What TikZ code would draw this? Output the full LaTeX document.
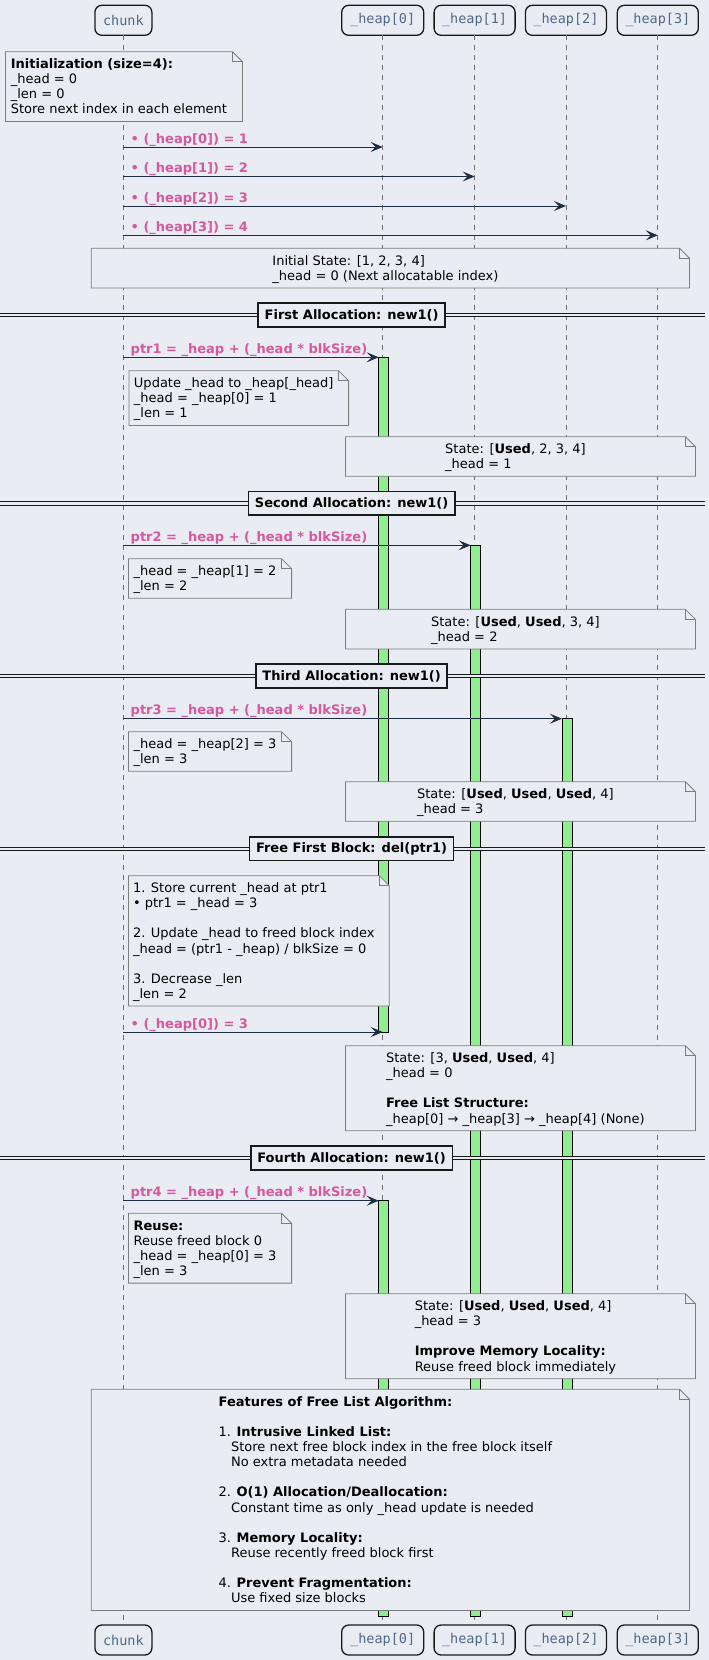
\documentclass[tikz,border=0pt]{standalone}
\usepackage{fontspec}
\setmainfont{DejaVu Sans}
\setmonofont{DejaVu Sans Mono}
\usetikzlibrary{arrows.meta}
\definecolor{bg}{RGB}{233,236,243}
\definecolor{pinklbl}{RGB}{214,88,158}
\definecolor{navy}{RGB}{30,45,68}
\definecolor{partxt}{RGB}{80,105,135}
\definecolor{notebd}{RGB}{125,125,125}
\definecolor{actgreen}{RGB}{144,238,144}
\definecolor{lifegray}{RGB}{110,110,110}
\newcommand\mlines[1]{\vtop{\baselineskip=15.13pt\lineskiplimit=-30pt\lineskip=0pt\halign{##\hfil\cr#1\crcr}}}
\newcommand\ind{\hspace*{12.4pt}}
\newcommand\fnote[5]{%
  \filldraw[notebox] (#2,#3) -- ({#4-10},#3) -- (#4,{#3+10}) -- (#4,#5) -- (#2,#5) -- cycle;
  \draw[notebox,fill=none] ({#4-10},#3) -- ({#4-10},{#3+10}) -- (#4,{#3+10});
  \coordinate (#1) at ({(#2+#4-10)/2},{#3+16.8});}
\newcommand\divline[3]{%
  \fill[bg] (0,{#2-1.65}) rectangle (705,{#2+1.65});
  \draw[black!90,line width=0.9pt] (0,{#2-1.65}) -- (705,{#2-1.65}) (0,{#2+1.65}) -- (705,{#2+1.65});
  \node[divbox] (#1) at (351.6,#2) {#3};}
\begin{document}
\begin{tikzpicture}[x=1pt,y=-1pt,
  every node/.style={inner sep=0pt,outer sep=0pt},
  part/.style={draw=black!90,line width=1.3pt,rounded corners=7pt,fill=bg,minimum height=30pt,text=partxt,font=\fontsize{13.5}{16}\ttfamily},
  lifeline/.style={draw=lifegray,line width=0.7pt,dash pattern=on 5pt off 5pt},
  act/.style={fill=actgreen,draw=black,line width=0.8pt},
  notebox/.style={draw=notebd,fill=bg,line width=0.8pt},
  notetxt/.style={anchor=base,font=\fontsize{13}{15.13}\selectfont,text=black},
  msg/.style={draw=navy,line width=1pt,-{Stealth[length=12pt,width=10pt,inset=5pt]}},
  lbl/.style={anchor=base west,text=pinklbl,font=\fontsize{13}{15.13}\selectfont\bfseries},
  divbox/.style={draw=black!90,line width=1.6pt,fill=bg,minimum height=23.5pt,inner xsep=6.5pt,font=\fontsize{13}{15.13}\selectfont\bfseries},
]
\useasboundingbox[fill=bg] (0,0) rectangle (709,1660);

% participants
\node[part,minimum width=57pt] (c) at (123.4,20.3) {chunk};
\node[part,minimum width=82pt] (h0) at (382.7,20.3) {\_heap[0]};
\node[part,minimum width=81pt] (h1) at (474.6,20.3) {\_heap[1]};
\node[part,minimum width=81pt] (h2) at (565.9,20.3) {\_heap[2]};
\node[part,minimum width=81pt] (h3) at (657.8,20.3) {\_heap[3]};
\node[part,minimum width=57pt] (cb) at (123.4,1640) {chunk};
\node[part,minimum width=82pt] (h0b) at (382.7,1640) {\_heap[0]};
\node[part,minimum width=81pt] (h1b) at (474.6,1640) {\_heap[1]};
\node[part,minimum width=81pt] (h2b) at (565.9,1640) {\_heap[2]};
\node[part,minimum width=81pt] (h3b) at (657.8,1640) {\_heap[3]};

% lifelines
\draw[lifeline] (c.south) -- (cb.north);
\draw[lifeline] (h0.south) -- (h0b.north);
\draw[lifeline] (h1.south) -- (h1b.north);
\draw[lifeline] (h2.south) -- (h2b.north);
\draw[lifeline] (h3.south) -- (h3b.north);

% activations
\draw[act] (378.7,357.3) rectangle (388.7,1032);
\draw[act] (470.6,545.3) rectangle (480.6,1616.7);
\draw[act] (561.9,718.7) rectangle (571.9,1616.7);
\draw[act] (378.7,1200.7) rectangle (388.7,1616.7);

% dividers
\divline{d1}{315}{First Allocation: new1()}
\divline{d2}{503.3}{Second Allocation: new1()}
\divline{d3}{676}{Third Allocation: new1()}
\divline{d4}{848.7}{Free First Block: del(ptr1)}
\divline{d5}{1158}{Fourth Allocation: new1()}

% notes
\fnote{n1}{5.4}{51.7}{242.4}{121.5}
\node[notetxt] (t1) at (n1) {\mlines{\textbf{Initialization (size=4):}\cr \_head = 0\cr \_len = 0\cr Store next index in each element}};

\fnote{n2}{91.3}{248.3}{689.5}{287.9}
\node[notetxt] (t2) at (n2) {\mlines{Initial State: [1, 2, 3, 4]\cr \_head = 0 (Next allocatable index)}};

\fnote{n3}{128.9}{370.7}{348.6}{425.4}
\node[notetxt] (t3) at (n3) {\mlines{Update \_head to \_heap[\_head]\cr \_head = \_heap[0] = 1\cr \_len = 1}};

\fnote{n4}{345.5}{436.7}{695.4}{476.3}
\node[notetxt] (t4) at (n4) {\mlines{State: [\textbf{Used}, 2, 3, 4]\cr \_head = 1}};

\fnote{n5}{128.4}{558.7}{291.6}{598.3}
\node[notetxt] (t5) at (n5) {\mlines{\_head = \_heap[1] = 2\cr \_len = 2}};

\fnote{n6}{345.5}{609.3}{695.4}{648.9}
\node[notetxt] (t6) at (n6) {\mlines{State: [\textbf{Used}, \textbf{Used}, 3, 4]\cr \_head = 2}};

\fnote{n7}{128.4}{731.7}{291.6}{771.3}
\node[notetxt] (t7) at (n7) {\mlines{\_head = \_heap[2] = 3\cr \_len = 3}};

\fnote{n8}{345.5}{781.7}{695.4}{821.3}
\node[notetxt] (t8) at (n8) {\mlines{State: [\textbf{Used}, \textbf{Used}, \textbf{Used}, 4]\cr \_head = 3}};

\fnote{n9}{128.4}{875.7}{389.3}{1006}
\node[notetxt] (t9) at (n9) {\mlines{1. Store current \_head at ptr1\cr • ptr1 = \_head = 3\cr \cr 2. Update \_head to freed block index\cr \_head = (ptr1 - \_heap) / blkSize = 0\cr \cr 3. Decrease \_len\cr \_len = 2}};

\fnote{n10}{345.5}{1045.7}{695.4}{1130.7}
\node[notetxt] (t10) at (n10) {\mlines{State: [3, \textbf{Used}, \textbf{Used}, 4]\cr \_head = 0\cr \cr \textbf{Free List Structure:}\cr \_heap[0] → \_heap[3] → \_heap[4] (None)}};

\fnote{n11}{128.4}{1213.3}{291.6}{1283.1}
\node[notetxt] (t11) at (n11) {\mlines{\textbf{Reuse:}\cr Reuse freed block 0\cr \_head = \_heap[0] = 3\cr \_len = 3}};

\fnote{n12}{345.5}{1293.7}{695.4}{1378.7}
\node[notetxt] (t12) at (n12) {\mlines{State: [\textbf{Used}, \textbf{Used}, \textbf{Used}, 4]\cr \_head = 3\cr \cr \textbf{Improve Memory Locality:}\cr Reuse freed block immediately}};

\fnote{n13}{91.3}{1389.3}{689.5}{1610.4}
\node[notetxt] (t13) at (n13) {\mlines{\textbf{Features of Free List Algorithm:}\cr \cr 1. \textbf{Intrusive Linked List:}\cr \ind Store next free block index in the free block itself\cr \ind No extra metadata needed\cr \cr 2. \textbf{O(1) Allocation/Deallocation:}\cr \ind Constant time as only \_head update is needed\cr \cr 3. \textbf{Memory Locality:}\cr \ind Reuse recently freed block first\cr \cr 4. \textbf{Prevent Fragmentation:}\cr \ind Use fixed size blocks}};

% messages
\coordinate (s1) at (123.4,147);    \coordinate (e1) at (382.7,147);
\coordinate (s2) at (123.4,176.5);  \coordinate (e2) at (474.6,176.5);
\coordinate (s3) at (123.4,206);    \coordinate (e3) at (565.9,206);
\coordinate (s4) at (123.4,235.3);  \coordinate (e4) at (657.8,235.3);
\coordinate (s5) at (123.4,357.3);  \coordinate (e5) at (378.7,357.3);
\coordinate (s6) at (123.4,545.3);  \coordinate (e6) at (470.6,545.3);
\coordinate (s7) at (123.4,718.7);  \coordinate (e7) at (561.9,718.7);
\coordinate (s8) at (123.4,1032);   \coordinate (e8) at (382.7,1032);
\coordinate (s9) at (123.4,1200.7); \coordinate (e9) at (378.7,1200.7);
\draw[msg] (s1) -- (e1);
\draw[msg] (s2) -- (e2);
\draw[msg] (s3) -- (e3);
\draw[msg] (s4) -- (e4);
\draw[msg] (s5) -- (e5);
\draw[msg] (s6) -- (e6);
\draw[msg] (s7) -- (e7);
\draw[msg] (s8) -- (e8);
\draw[msg] (s9) -- (e9);
\node[lbl] (l1) at (130.7,143) {• (\_heap[0]) = 1};
\node[lbl] (l2) at (130.7,172.5) {• (\_heap[1]) = 2};
\node[lbl] (l3) at (130.7,202) {• (\_heap[2]) = 3};
\node[lbl] (l4) at (130.7,231.3) {• (\_heap[3]) = 4};
\node[lbl] (l5) at (130.7,353.3) {ptr1 = \_heap + (\_head * blkSize)};
\node[lbl] (l6) at (130.7,541.3) {ptr2 = \_heap + (\_head * blkSize)};
\node[lbl] (l7) at (130.7,714.7) {ptr3 = \_heap + (\_head * blkSize)};
\node[lbl] (l8) at (130.7,1028) {• (\_heap[0]) = 3};
\node[lbl] (l9) at (130.7,1196.7) {ptr4 = \_heap + (\_head * blkSize)};
\end{tikzpicture}
\end{document}
